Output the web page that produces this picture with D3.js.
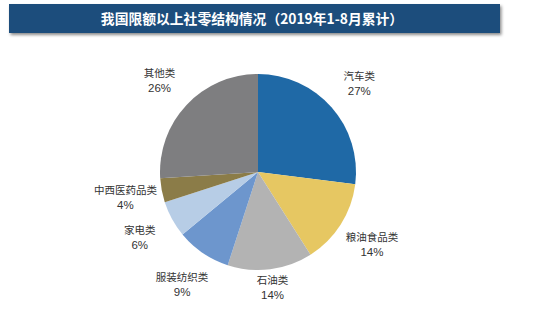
<!DOCTYPE html>
<html><head><meta charset="utf-8">
<script src="https://cdn.jsdelivr.net/npm/d3@7"></script>
<style>body{margin:0;background:#fff;}svg{display:block;}</style>
</head><body>
<svg id="c" width="540" height="334"></svg>
<script>
const categories = ["汽车类","粮油食品类","石油类","服装纺织类","家电类","中西医药品类","其他类"];
const values = [27,14,14,9,6,4,26];
const colors = ["#1f69a6","#e6c762","#b3b3b3","#6d96cd","#b7cde6","#8b7c48","#7e7e80"];
const title = "我国限额以上社零结构情况（2019年1-8月累计）";

const svg = d3.select("#c");
const defs = svg.append("defs");
const f = defs.append("filter").attr("id","sh").attr("x","-5%").attr("y","-30%").attr("width","110%").attr("height","170%");
f.append("feDropShadow").attr("dx",1.5).attr("dy",2).attr("stdDeviation",1.5).attr("flood-color","#000").attr("flood-opacity",0.45);

svg.append("rect").attr("x",9).attr("y",4).attr("width",491).attr("height",29)
  .attr("fill","#1e4d7b").attr("filter","url(#sh)");
svg.append("text").attr("x",252).attr("y",24).attr("text-anchor","middle")
  .attr("fill","#fff").attr("font-family","'Noto Sans CJK SC',sans-serif")
  .attr("font-weight","bold").attr("font-size",13.8).text(title);

const cx = 258, cy = 172, r = 98;
const g = svg.append("g").attr("transform",`translate(${cx},${cy})`);
const pie = d3.pie().sort(null).value(d=>d);
const arcs = pie(values);
const arc = d3.arc().innerRadius(0).outerRadius(r);
g.selectAll("path").data(arcs).join("path").attr("d",arc).attr("fill",(d,i)=>colors[i]);

// label radius: labels near the bottom sit closer to the pie
const labelR = d => {
  const mid = (d.startAngle + d.endAngle) / 2;
  const c = Math.cos(mid); // 1 at top, -1 at bottom
  return c < -0.9 ? 116 : 135;
};
const lab = g.selectAll("g.lab").data(arcs).join("g").attr("class","lab")
  .attr("transform",d=>{
    const rr = labelR(d);
    const c = d3.arc().innerRadius(rr).outerRadius(rr).centroid(d);
    return `translate(${c[0]},${c[1]})`;
  });
lab.append("text").attr("text-anchor","middle").attr("y",-3)
  .attr("font-family","'Noto Sans CJK SC',sans-serif").attr("font-size",10.5).attr("fill","#333")
  .text((d,i)=>categories[i]);
lab.append("text").attr("text-anchor","middle").attr("y",12)
  .attr("font-family","'Liberation Sans',Arial,sans-serif").attr("font-size",11.5).attr("fill","#333")
  .text((d,i)=>values[i]+"%");
</script>
</body></html>
